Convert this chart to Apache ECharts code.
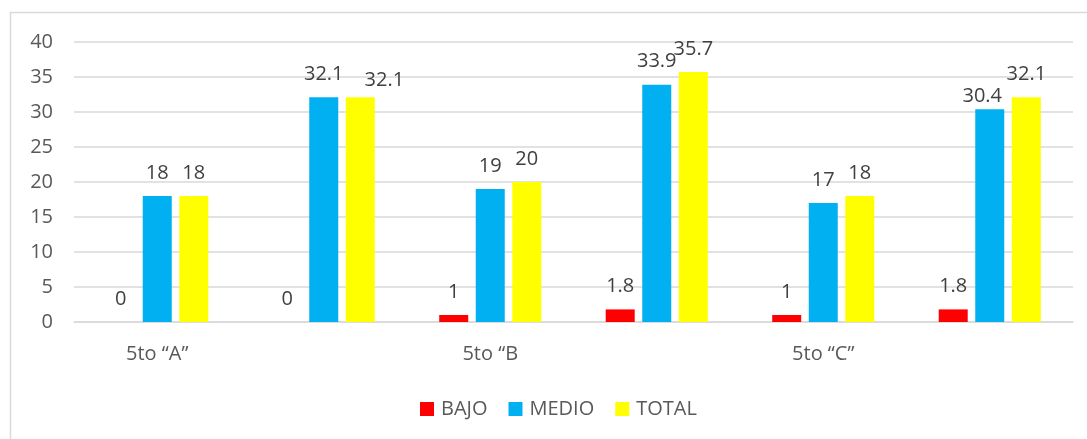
<!DOCTYPE html>
<html>
<head>
<meta charset="utf-8">
<script src="https://cdn.jsdelivr.net/npm/echarts@6/dist/echarts.min.js"></script>
<style>
html,body{margin:0;padding:0;background:#fff;}
#chart{width:1087px;height:439px;}
</style>
</head>
<body>
<div id="chart"></div>
<script>
var categories = ['5to \u201cA\u201d', '', '5to \u201cB', '', '5to \u201cC\u201d', ''];
var seriesNames = ['BAJO', 'MEDIO', 'TOTAL'];
var bajo = [0, 0, 1, 1.8, 1, 1.8];
var medio = [18, 32.1, 19, 33.9, 17, 30.4];
var total = [18, 32.1, 20, 35.7, 18, 32.1];
var yTicks = { min: 0, max: 40, interval: 5 };

// label nudges (as in the original, where overlapping labels were moved)
var labelNudge = {
  MEDIO: { 5: [-7.5, 10] },
  TOTAL: { 1: [24, 6] }
};

var FONT = "'Open Sans', 'Noto Sans', sans-serif";
var colors = ['#FF0000', '#00B0F0', '#FFFF00'];

function mk(name, values, color) {
  var nudges = labelNudge[name] || {};
  var data = values.map(function (v, i) {
    if (nudges[i]) {
      return { value: v, label: { offset: nudges[i] } };
    }
    return v;
  });
  return {
    name: name,
    type: 'bar',
    data: data,
    barWidth: 29,
    barGap: '26%',
    itemStyle: { color: color },
    label: {
      show: true,
      position: 'top',
      distance: 13,
      color: '#404040',
      fontFamily: FONT,
      fontSize: 20
    }
  };
}

var chart = echarts.init(document.getElementById('chart'), null, { renderer: 'canvas' });
chart.setOption({
  animation: false,
  backgroundColor: '#ffffff',
  graphic: [{
    type: 'rect',
    shape: { x: 10.5, y: 12.5, width: 1100, height: 440 },
    style: { fill: 'none', stroke: '#D9D9D9', lineWidth: 1.5 },
    silent: true,
    z: -1
  }],
  grid: { left: 74, right: 14, top: 42, bottom: 117 },
  legend: {
    data: seriesNames,
    left: 415,
    top: 394,
    itemWidth: 14,
    itemHeight: 14,
    itemGap: 21,
    icon: 'rect',
    textStyle: { color: '#595959', fontFamily: FONT, fontSize: 20, padding: [0, 0, 0, 2] }
  },
  xAxis: {
    type: 'category',
    data: categories,
    axisLine: { show: true, lineStyle: { color: '#D9D9D9', width: 1.5 } },
    axisTick: { show: false },
    axisLabel: {
      interval: 0,
      margin: 22,
      color: '#595959',
      fontFamily: FONT,
      fontSize: 20
    }
  },
  yAxis: {
    type: 'value',
    min: yTicks.min,
    max: yTicks.max,
    interval: yTicks.interval,
    axisLine: { show: false },
    axisTick: { show: false },
    splitLine: { lineStyle: { color: '#D9D9D9', width: 1.5 } },
    axisLabel: {
      margin: 21,
      color: '#595959',
      fontFamily: FONT,
      fontSize: 20
    }
  },
  series: [mk(seriesNames[0], bajo, colors[0]), mk(seriesNames[1], medio, colors[1]), mk(seriesNames[2], total, colors[2])]
});
</script>
</body>
</html>
